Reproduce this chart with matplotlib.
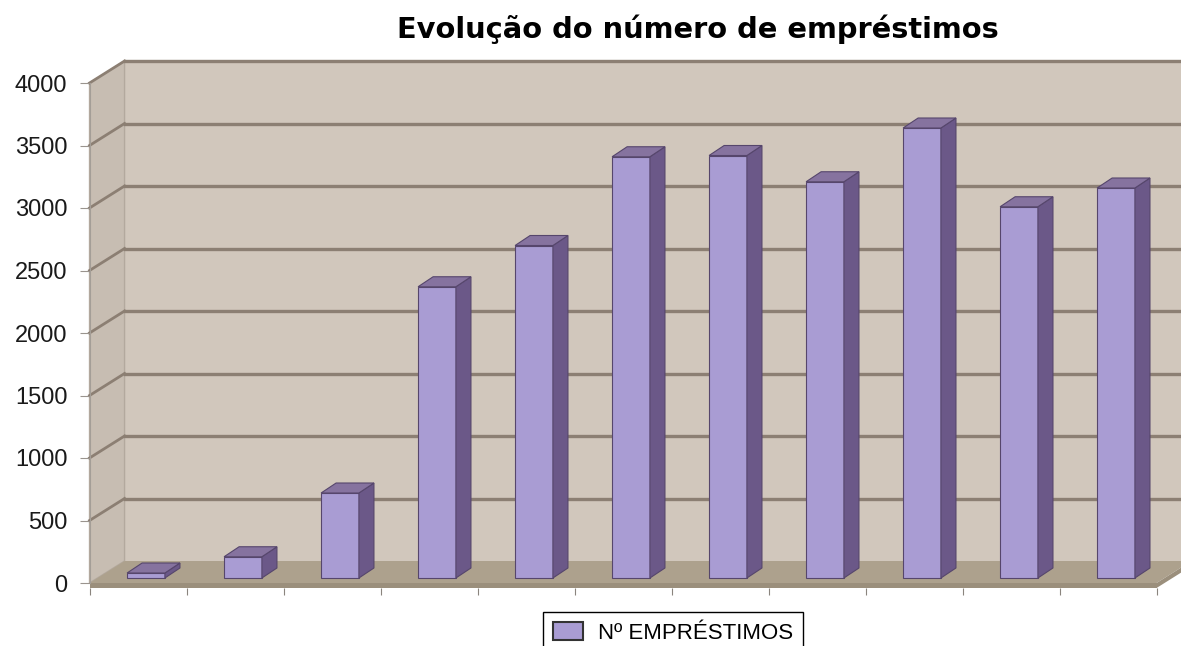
import matplotlib.pyplot as plt
from matplotlib.patches import Polygon, Patch
import numpy as np

# loans per period
titulo = "Evolução do número de empréstimos"
serie = "Nº EMPRÉSTIMOS"
emprestimos = [40, 170, 680, 2330, 2660, 3370, 3380, 3170, 3600, 2970, 3120]
y_ticks = [0, 500, 1000, 1500, 2000, 2500, 3000, 3500, 4000]

plt.rcParams['font.family'] = ['Liberation Sans', 'DejaVu Sans']

# oblique "3d" offsets in data units (x in categories, y in loans)
front_dx, front_dy = -0.082, -40
back_dx, back_dy = 0.279, 136
bar_dx, bar_dy = 0.155, 80
bar_w = 0.39

wall_c = '#d1c7bc'
side_c = '#c7bdb2'
floor_c = '#ada18d'
floor_front_c = '#9b8f7c'
grid_c = '#8c7f73'
bar_front = '#a99cd3'
bar_side = '#6b5888'
bar_top = '#86739f'
bar_edge = '#56466c'

fig = plt.figure(figsize=(11.81, 6.46), dpi=100)
ax = fig.add_axes([0, 0, 1, 1])
ax.set_xlim(-1.505, 10.67)
ax.set_ylim(-544, 4624)

n = len(emprestimos)
x = np.arange(n)
left, right = -0.5, n - 0.5
top = y_ticks[-1]


def plane(pts, dx, dy):
    return [(px + dx, py + dy) for px, py in pts]


# back wall and side wall
ax.add_patch(Polygon(plane([(left, 0), (right + 1, 0), (right + 1, top), (left, top)], back_dx, back_dy),
                     fc=wall_c, ec='none', zorder=0))
ax.plot([left + back_dx, right + 1], [top + back_dy] * 2, color='#b0a498', lw=1.5, zorder=1)
ax.add_patch(Polygon([(left + front_dx, front_dy), (left + back_dx, back_dy),
                      (left + back_dx, top + back_dy), (left + front_dx, top + front_dy)],
                     fc=side_c, ec='#b3a99e', lw=1, zorder=0))

# gridlines on both walls
for t in y_ticks[1:]:
    ax.plot([left + back_dx, right + 1], [t + back_dy] * 2, color=grid_c, lw=2.4, zorder=1)
    ax.plot([left + front_dx, left + back_dx], [t + front_dy, t + back_dy], color=grid_c, lw=2.0, zorder=1)

# floor: top face plus a thin front strip
ax.add_patch(Polygon([(left + front_dx, front_dy), (right + front_dx, front_dy),
                      (right + back_dx, back_dy), (left + back_dx, back_dy)],
                     fc=floor_c, ec='none', zorder=1))
ax.add_patch(Polygon([(left + front_dx, front_dy), (right + front_dx, front_dy),
                      (right + front_dx, 2 * front_dy), (left + front_dx, 2 * front_dy)],
                     fc=floor_front_c, ec='none', zorder=1))
ax.add_patch(Polygon([(right + front_dx, front_dy), (right + back_dx, back_dy),
                      (right + back_dx, back_dy + front_dy), (right + front_dx, 2 * front_dy)],
                     fc=floor_front_c, ec='none', zorder=1))

# columns: front face from ax.bar, side and top faces from the same values
bars = ax.bar(x, emprestimos, width=bar_w, color=bar_front, edgecolor=bar_edge, lw=0.8, zorder=3)
for rect, v in zip(bars, emprestimos):
    x0 = rect.get_x()
    x1 = x0 + rect.get_width()
    ax.add_patch(Polygon([(x1, 0), (x1 + bar_dx, bar_dy), (x1 + bar_dx, v + bar_dy), (x1, v)],
                         fc=bar_side, ec=bar_edge, lw=0.8, zorder=3))
    ax.add_patch(Polygon([(x0, v), (x1, v), (x1 + bar_dx, v + bar_dy), (x0 + bar_dx, v + bar_dy)],
                         fc=bar_top, ec=bar_edge, lw=0.8, zorder=3))

# value axis on the front edge of the side wall
for s in ['top', 'right']:
    ax.spines[s].set_visible(False)
ax.spines['left'].set_position(('data', left + front_dx))
ax.spines['left'].set_bounds(front_dy, top + front_dy)
ax.spines['left'].set_color('#a49e97')
ax.set_yticks([t + front_dy for t in y_ticks])
ax.set_yticklabels([str(t) for t in y_ticks])
ax.tick_params(axis='y', direction='out', length=7, color='#9a948e', labelsize=17, pad=9, labelcolor='#1a1a1a')

# category ticks under the floor, no labels
ax.spines['bottom'].set_position(('data', 2 * front_dy))
ax.spines['bottom'].set_color('none')
ax.set_xticks(np.arange(n + 1) - 0.5 + front_dx)
ax.tick_params(axis='x', direction='out', length=5, color='#8a847e', labelbottom=False)

fig.text(0.5906, 0.941, titulo, ha='center', va='baseline', fontsize=20.8, fontweight='bold',
         family='DejaVu Sans')

leg = fig.legend(handles=[Patch(fc=bar_front, ec='#333333', lw=1.5)], labels=[serie],
                 loc='upper left', bbox_to_anchor=(0.4598, 0.0526), borderaxespad=0, fontsize=16,
                 fancybox=False, edgecolor='black', framealpha=1,
                 handlelength=1.36, handleheight=0.9, borderpad=0.45, handletextpad=0.68)
leg.get_frame().set_linewidth(1)

fig.savefig('out.png', dpi=100)
